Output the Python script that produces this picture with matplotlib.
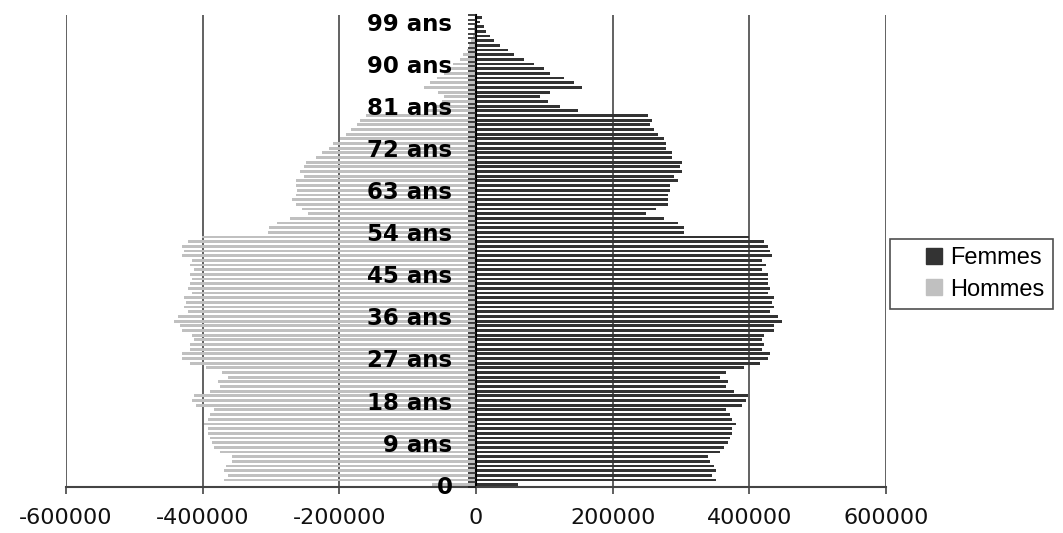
import matplotlib
matplotlib.use("Agg")
import matplotlib.pyplot as plt
from matplotlib.lines import Line2D
import numpy as np

# Pyramide des âges : effectifs par âge (en milliers)
ages = np.arange(0, 101)

femmes = [61.5, 351.2, 345.4, 351.2, 348.3, 342.4, 339.5, 357.1, 362.9, 368.8,
          371.7, 374.6, 374.6, 380.5, 374.6, 371.7, 365.9, 389.3, 395.1, 398.0,
          377.6, 365.9, 368.8, 357.1, 365.9, 392.2, 415.6, 427.3, 430.2, 418.5,
          421.5, 418.5, 421.5, 436.1, 436.1, 447.8, 442.0, 430.2, 436.1, 433.2,
          436.1, 427.3, 430.2, 427.3, 427.3, 427.3, 418.5, 424.4, 418.5, 433.2,
          430.2, 427.3, 421.5, 400.0, 304.4, 304.4, 295.6, 275.1, 248.8, 263.4,
          281.0, 281.0, 281.0, 283.9, 283.9, 295.6, 289.8, 301.5, 298.5, 301.5,
          286.8, 286.8, 278.0, 278.0, 275.1, 266.3, 260.5, 254.6, 257.6, 251.7,
          149.3, 122.9, 105.4, 93.7, 108.3, 155.1, 143.4, 128.8, 108.3, 99.5,
          84.9, 70.2, 55.6, 46.8, 35.1, 26.3, 20.5, 14.6, 11.7, 5.9,
          8.8]

hommes = [64.0, 368.8, 362.9, 368.8, 365.9, 357.1, 357.1, 374.6, 383.4, 386.4,
          389.3, 392.2, 392.2, 398.1, 392.2, 389.3, 383.4, 409.8, 415.6, 412.7,
          389.3, 374.6, 377.6, 362.9, 371.7, 395.1, 418.5, 430.3, 430.3, 418.5,
          418.5, 412.7, 415.6, 430.3, 433.2, 442.0, 436.1, 421.5, 427.3, 424.4,
          427.3, 415.6, 421.5, 418.5, 415.6, 418.5, 412.7, 418.5, 415.6, 430.3,
          427.3, 430.3, 421.5, 401.0, 304.4, 303.4, 291.7, 272.2, 245.9, 254.6,
          263.4, 269.3, 263.4, 262.4, 263.4, 263.4, 251.7, 257.6, 251.7, 248.8,
          234.2, 225.8, 215.6, 208.8, 199.0, 190.3, 183.4, 173.7, 170.0, 161.0,
          72.0, 58.0, 50.0, 46.8, 55.6, 76.1, 67.3, 57.6, 46.8, 40.0,
          33.0, 24.0, 18.5, 13.0, 10.0, 7.0, 5.0, 3.5, 2.5, 1.5,
          1.5]

age_labels = ["0" if a == 0 else (f"{a} ans" if a % 9 == 0 else "") for a in ages]
x_ticks = [-600000, -400000, -200000, 0, 200000, 400000, 600000]

fig = plt.figure(figsize=(10.63, 5.33), dpi=100)
ax = fig.add_axes([66/1063, 46/533, 820/1063, 472/533])

# grille verticale sous les barres
for xv in x_ticks:
    ax.axvline(xv, color='#555555', lw=1.3, zorder=1)

ax.barh(ages, np.array(femmes)*1000, height=0.6, color='#333333', zorder=2)
ax.barh(ages, -np.array(hommes)*1000, height=0.6, color='#c0c0c0', zorder=2)

ax.set_xlim(-600000, 600000)
ax.set_ylim(-0.5, 100.5)
ax.set_axisbelow(False)

ax.spines['top'].set_visible(False)
ax.spines['right'].set_visible(False)
ax.spines['left'].set_position(('data', 0))
ax.spines['left'].set_linewidth(1.5)
ax.spines['bottom'].set_linewidth(1.5)
ax.spines['bottom'].set_color('#444444')

# axe des âges : étiquettes tous les 9 ans, graduations entre catégories
ax.set_yticks(ages)
ax.set_yticklabels(age_labels, fontsize=16.5, fontweight='bold', family='DejaVu Sans')
ax.tick_params(axis='y', which='major', length=0, pad=17)
ax.set_yticks(np.arange(-0.5, 101, 1), minor=True)
ax.tick_params(axis='y', which='minor', length=6, width=1.2, direction='out', color='#222222')

ax.set_xticks(x_ticks)
ax.set_xticklabels([str(v) for v in x_ticks], fontsize=16, family='DejaVu Sans', color='#111111')
ax.tick_params(axis='x', length=5, width=1.2, direction='out', pad=10, color='#444444')

handles = [Line2D([], [], ls='none', marker='s', markersize=12, color='#333333'),
           Line2D([], [], ls='none', marker='s', markersize=12, color='#c0c0c0')]
leg = fig.legend(handles, ['Femmes', 'Hommes'], loc='upper left',
                 bbox_to_anchor=(890/1063, 1-239/533), borderaxespad=0,
                 frameon=True, fancybox=False, edgecolor='#222222',
                 prop={'family': 'Liberation Sans', 'size': 17},
                 handlelength=3.0, handletextpad=-0.8, borderpad=0.35, labelspacing=0.4)
leg.get_frame().set_linewidth(1.2)

fig.savefig('out.png', dpi=100)
